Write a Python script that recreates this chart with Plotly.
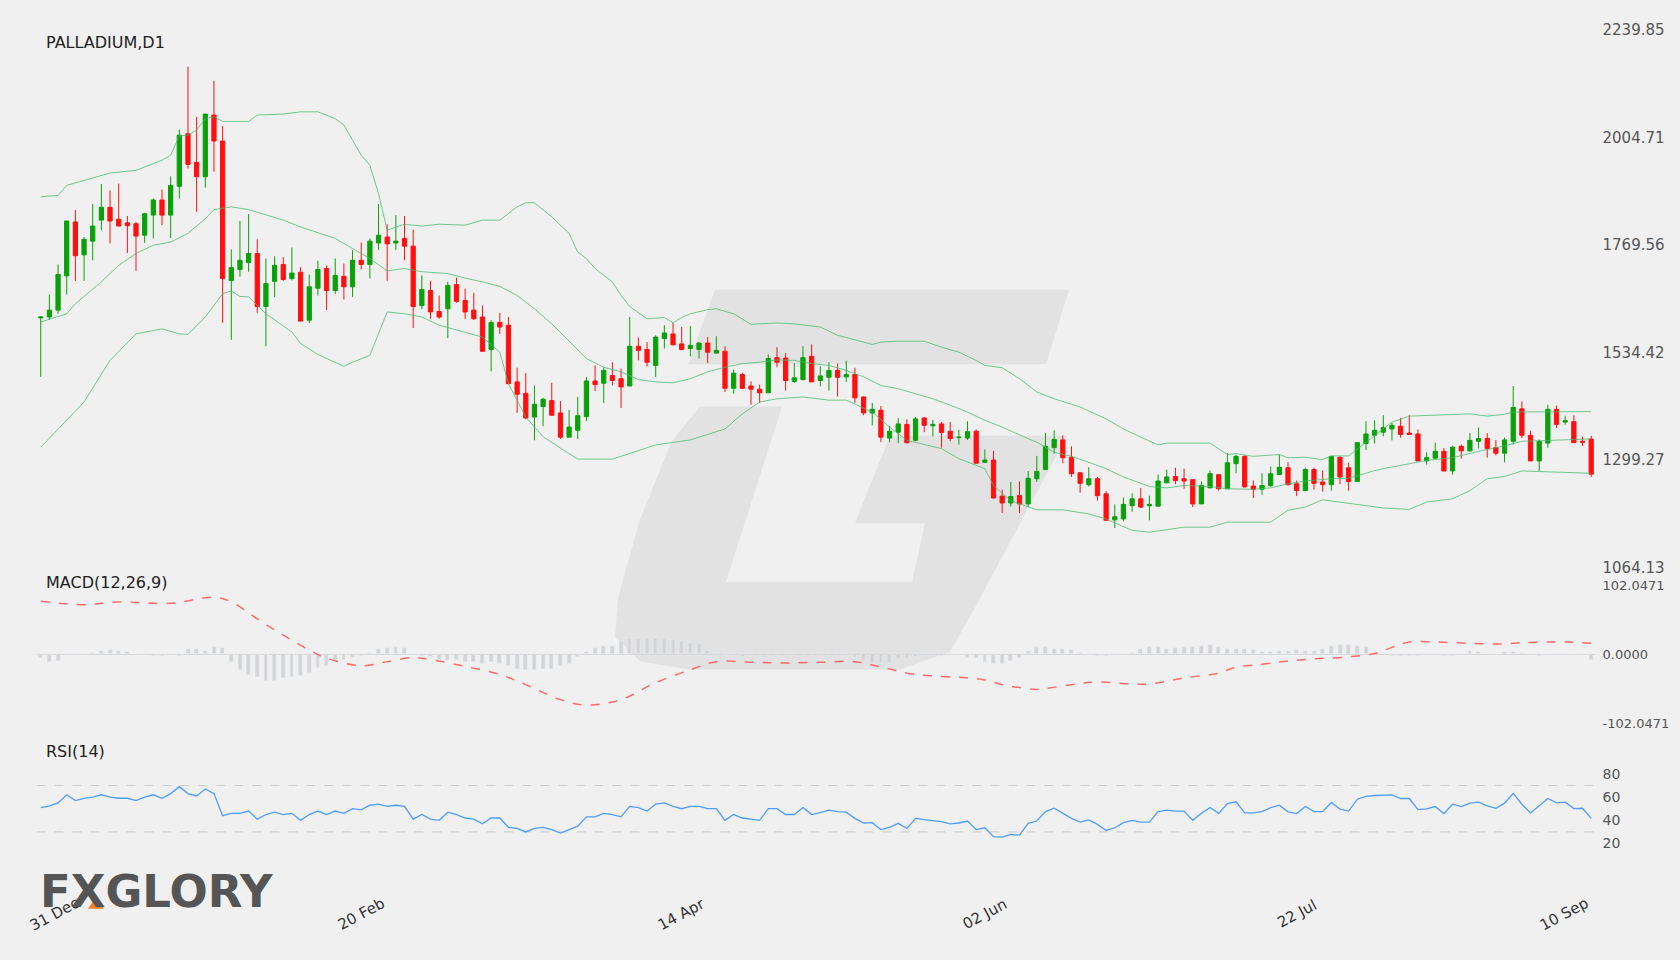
import plotly.graph_objects as go

W, H = 1680, 960

O = [1610,1612,1627,1702,1820,1748,1778,1824,1852,1826,1818,1816,1791,1835,1868,1835,1898,2013,1950,1919,
     2054,1997,1692,1716,1731,1751,1635,1690,1727,1696,1710,1605,1675,1718,1670,1701,1678,1736,1727,1774,
     1787,1774,1784,1767,1637,1670,1624,1630,1683,1648,1627,1612,1541,1600,1594,1470,1445,1393,1416,1429,
     1402,1349,1364,1394,1472,1467,1484,1477,1461,1548,1541,1506,1565,1575,1553,1543,1541,1555,1533,1537,
     1456,1486,1461,1454,1446,1523,1522,1471,1475,1526,1473,1480,1495,1481,1486,1437,1402,1408,1347,1360,
     1377,1342,1391,1374,1378,1362,1348,1347,1362,1294,1299,1220,1205,1221,1203,1258,1278,1326,1343,1305,
     1271,1245,1258,1225,1168,1170,1199,1214,1199,1198,1249,1263,1258,1256,1203,1238,1267,1236,1291,1307,
     1242,1235,1243,1267,1282,1247,1232,1278,1251,1245,1305,1282,1252,1335,1353,1360,1367,1373,1358,1356,
     1297,1303,1318,1275,1329,1319,1340,1346,1326,1314,1340,1411,1353,1297,1336,1410,1382,1383,1340,1345]
Hh = [1612,1661,1727,1822,1846,1787,1859,1903,1889,1904,1833,1820,1840,1871,1891,1920,2022,2160,2050,2056,
      2129,2030,1760,1822,1837,1782,1740,1745,1743,1764,1721,1705,1735,1725,1740,1729,1758,1775,1784,1859,
      1815,1835,1833,1803,1703,1691,1659,1689,1698,1674,1665,1637,1605,1621,1612,1501,1489,1462,1435,1468,
      1428,1409,1437,1481,1506,1502,1513,1499,1612,1567,1557,1572,1594,1599,1590,1592,1557,1568,1570,1548,
      1497,1490,1471,1464,1530,1546,1533,1511,1548,1552,1504,1513,1510,1516,1501,1438,1424,1417,1373,1391,
      1388,1393,1393,1387,1382,1382,1365,1384,1366,1322,1319,1234,1251,1252,1275,1308,1358,1364,1353,1329,
      1273,1283,1262,1231,1202,1217,1226,1238,1221,1267,1278,1282,1280,1256,1252,1276,1267,1314,1311,1309,
      1254,1270,1285,1311,1294,1254,1282,1282,1276,1307,1307,1293,1337,1384,1386,1397,1380,1391,1397,1366,
      1316,1337,1325,1330,1333,1358,1370,1358,1343,1348,1461,1427,1363,1344,1420,1418,1396,1397,1350,1352]
L = [1481,1606,1619,1661,1691,1691,1736,1802,1773,1811,1752,1713,1774,1784,1813,1785,1871,1937,1842,1895,
     1930,1599,1562,1700,1711,1621,1548,1656,1691,1692,1603,1599,1659,1627,1663,1650,1656,1716,1696,1759,
     1691,1759,1736,1588,1629,1608,1608,1566,1643,1608,1606,1537,1493,1575,1466,1402,1388,1342,1373,1397,
     1345,1349,1345,1384,1450,1424,1462,1413,1461,1517,1504,1481,1543,1550,1539,1526,1521,1511,1532,1448,
     1444,1454,1420,1424,1446,1502,1451,1468,1473,1470,1460,1451,1438,1470,1424,1397,1375,1338,1338,1336,
     1335,1340,1360,1351,1326,1340,1333,1343,1292,1292,1214,1183,1197,1183,1197,1251,1278,1313,1292,1262,
     1227,1241,1210,1167,1150,1165,1186,1194,1167,1198,1249,1246,1236,1196,1203,1238,1232,1236,1270,1240,
     1216,1223,1240,1267,1243,1220,1231,1234,1230,1232,1246,1232,1251,1321,1335,1351,1342,1348,1355,1297,
     1289,1302,1275,1267,1302,1318,1324,1304,1309,1294,1333,1347,1297,1275,1326,1369,1376,1337,1330,1262]
C = [1612,1627,1705,1822,1746,1782,1811,1852,1822,1811,1812,1789,1838,1868,1835,1900,2010,1946,1919,2056,
     1997,1696,1720,1736,1751,1635,1685,1725,1694,1708,1603,1678,1716,1670,1703,1678,1736,1727,1778,1791,
     1772,1778,1767,1635,1672,1623,1612,1681,1646,1623,1608,1537,1600,1590,1466,1443,1391,1421,1432,1397,
     1349,1371,1396,1472,1464,1495,1473,1459,1548,1539,1513,1568,1577,1551,1541,1550,1555,1535,1539,1456,
     1489,1456,1454,1446,1521,1513,1473,1479,1523,1470,1483,1495,1480,1486,1435,1402,1410,1349,1362,1378,
     1337,1389,1375,1377,1359,1346,1349,1361,1292,1299,1216,1205,1219,1203,1259,1274,1329,1344,1304,1269,
     1248,1258,1221,1167,1175,1202,1214,1196,1202,1253,1262,1254,1253,1203,1243,1269,1236,1293,1307,1240,
     1235,1243,1269,1283,1245,1232,1278,1248,1245,1307,1262,1252,1337,1356,1364,1370,1375,1355,1355,1297,
     1304,1318,1275,1327,1319,1342,1346,1324,1314,1343,1414,1353,1297,1340,1410,1377,1385,1337,1338,1268]

up_idx = [0,2,3,6,8,11,12,14,15,16,17,18,19,20,21,24,25,28,30,32,34,35,36,37,38,39,40,41,42,44,46,49,51,53,55,56,57,59,61,62,63,64,66,67,68,70,72,73,74,75,77,78,80,82,85,87,90,92,95,96,97,99,102,104,106,108,109,111,113,115,117,120,123,125,127,129,130,135,137,138,140,143,144,146,148,149,151,153,156,158,162,165,167,169,170,179]
up_val = [1875,1878,1900,1916,1927,1933,1940,1955,1966,2008,2010,2021,2046,2050,2040,2040,2054,2056,2061,2061,2046,2032,1999,1966,1944,1882,1802,1809,1815,1811,1815,1813,1824,1824,1853,1862,1862,1831,1795,1754,1740,1718,1689,1659,1635,1608,1611,1599,1611,1619,1628,1630,1619,1596,1599,1597,1590,1572,1557,1552,1557,1559,1559,1546,1535,1517,1506,1501,1477,1448,1433,1415,1389,1367,1349,1332,1336,1336,1311,1313,1307,1311,1304,1305,1300,1308,1308,1338,1382,1395,1398,1400,1395,1399,1404,1405]
mid_idx = [0,3,4,7,9,11,13,15,17,19,20,22,24,26,28,30,32,34,36,38,40,42,44,47,49,51,53,55,57,59,61,63,65,67,69,71,73,75,77,79,81,83,85,87,89,91,93,95,97,99,101,103,105,107,109,111,113,115,117,119,121,123,125,127,128,130,132,135,137,140,142,144,146,149,151,153,154,155,157,159,160,163,164,166,169,171,179]
mid_val = [1601,1619,1641,1689,1725,1751,1769,1776,1795,1827,1847,1853,1847,1835,1824,1809,1796,1784,1762,1740,1713,1718,1711,1707,1697,1689,1679,1659,1630,1597,1559,1521,1502,1492,1475,1470,1468,1477,1492,1502,1510,1513,1518,1517,1510,1506,1495,1481,1462,1455,1444,1433,1419,1404,1386,1371,1354,1338,1316,1307,1294,1280,1262,1249,1241,1238,1243,1241,1236,1235,1238,1247,1253,1258,1259,1270,1276,1280,1287,1294,1298,1304,1309,1318,1330,1340,1345]
low_idx = [0,2,5,8,11,14,16,17,19,21,22,23,24,26,29,30,32,35,36,38,40,42,44,46,49,51,53,54,56,58,60,62,66,71,75,77,79,81,83,85,88,91,93,96,98,100,104,106,109,110,112,115,118,121,123,126,128,132,135,137,142,144,146,148,150,152,155,158,160,163,165,167,169,171,179]
low_val = [1327,1367,1426,1517,1575,1586,1575,1574,1612,1663,1669,1657,1656,1619,1579,1554,1530,1504,1513,1528,1623,1619,1612,1594,1579,1568,1535,1466,1393,1350,1325,1301,1301,1332,1343,1355,1367,1400,1426,1433,1437,1430,1430,1404,1371,1342,1324,1302,1280,1243,1210,1190,1190,1181,1170,1145,1141,1152,1152,1163,1163,1189,1196,1212,1207,1203,1194,1191,1207,1214,1232,1258,1263,1275,1270]

sig_idx = [0,5,9,15,20,22,25,28,31,33,37,40,43,45,49,53,56,60,63,67,71,75,78,82,86,90,94,97,101,107,109,111,114,115,119,122,126,128,132,136,138,141,144,147,151,154,156,158,161,165,169,171,176,179]
sig_val = [78,73,77,75,84,77,52,28,6,-6,-17,-11,-5,-8,-18,-30,-45,-67,-75,-67,-42,-23,-11,-12,-13,-12,-11,-19,-30,-35,-38,-45,-51,-52,-45,-41,-44,-44,-35,-28,-19,-15,-10,-7,-4,1,10,18,18,16,15,17,18,16]
hist = [-6,-11,-10,-1,-1,0.5,2,4,6,5,3,1,0,-2,-2,0,-2,8,8,5,10,9,-12,-24,-30,-33,-39,-39,-35,-34,
        -32,-28,-20,-17,-12,-9,-6,-2,2,7,9,10,9,1,-2,-4,-8,-9,-8,-11,-12,-14,-11,-14,-18,-22,-24,-23,-22,-22,
        -18,-14,-4,3,9,12,12,20,22,22,24,24,23,21,19,17,15,5,2,-1,-2,-4,-2,0,1,0,2,1,1,1,
        2,1,0,-3,-5,-10,-13,-13,-13,-7,-6,-4,-2,-3,-2,-1,-1,-5,-6,-11,-15,-15,-10,-5,4,10,10,8,7,6,
        2,-1,-3,-3,-1,0,2,7,10,10,8,9,10,10,12,13,11,8,7,7,6,3,3,4,4,6,5,4,8,12,
        13,13,12,10,2,0,-2,-2,-2,-2,-1,-1,-2,-2,0,4,3,0,-1,3,3,2,0,-2,-1,-1,-1,-1,-1,-8]
rsi = [51,52.5,55,62,57,59,60,62,60,59,59,57,60,62,59,63,69,63,61,67,63,44,46,46,48,41,45,47,45,46,
       40,45,48,45,48,46,50,49,53,54,52,53,52,41,45,41,40,47,45,42,41,37,42,42,34,33,30,33,34,32,
       29,32,35,43,43,46,45,43,52,51,48,54,55,52,50,52,52,50,50,40,45,42,41,40,50,50,45,45,51,45,
       46.6,48.7,47.5,47,41.7,37.7,38,32,34,37.4,33,41.7,40.6,40,38.8,37,37.7,39.4,32,33.6,26,25.5,27.8,27.2,37.4,39.4,47.5,50.4,45.8,41.7,
       38.5,40.3,36.5,31.3,33.6,38,40,38.5,38.5,47.5,48.7,48,48,40,46,51,46,54.5,56,46.4,46.4,47.5,51,53,47.3,45.8,51.9,47.5,47.5,55.4,
       49.6,48,58.2,60.6,61.4,62,62,58.8,58.8,49.3,49.8,51.9,45.8,53.9,51.9,54.8,55.6,52.5,50.4,54.8,63.2,53.9,46.4,52.5,58.8,55,55.6,50.1,50.4,41.7]

tick_idx = [0, 37, 74, 109, 145, 179]
tick_text = ["31 Dec", "20 Feb", "14 Apr", "02 Jun", "22 Jul", "10 Sep"]
price_ticks = [1064.13, 1299.27, 1534.42, 1769.56, 2004.71, 2239.85]
macd_ticks = [-102.0471, 0.0, 102.0471]
rsi_ticks = [20, 40, 60, 80]

X = list(range(len(C)))
BG = "#f0f0f0"
def py(p): return 1 - p / H
def px(p): return p / W

fig = go.Figure()
band = dict(color="rgba(70,185,110,0.75)", width=1)
fig.add_trace(go.Scatter(x=up_idx, y=up_val, mode="lines", line=band, hoverinfo="skip"))
fig.add_trace(go.Scatter(x=mid_idx, y=mid_val, mode="lines", line=band, hoverinfo="skip"))
fig.add_trace(go.Scatter(x=low_idx, y=low_val, mode="lines", line=band, hoverinfo="skip"))
fig.add_trace(go.Candlestick(x=X, open=O, high=Hh, low=L, close=C, whiskerwidth=0,
    increasing=dict(line=dict(color="#0aa00a", width=1), fillcolor="#0aa00a"),
    decreasing=dict(line=dict(color="#ff1010", width=1), fillcolor="#ff1010")))
fig.add_trace(go.Bar(x=X, y=hist, marker_color="#d4d4d4", width=0.45, xaxis="x2", yaxis="y2"))
fig.add_trace(go.Scatter(x=sig_idx, y=sig_val, mode="lines", line=dict(color="#ff6b6b", width=1.5, dash="dash", shape="spline"),
    xaxis="x2", yaxis="y2"))
fig.add_trace(go.Scatter(x=X, y=rsi, mode="lines", line=dict(color="#4f9dff", width=1.3), xaxis="x3", yaxis="y3"))

xr = [-0.5, len(C) - 0.5]
xdom = [px(36.4), px(1595.5)]
common_x = dict(range=xr, domain=xdom, showgrid=False, zeroline=False, showticklabels=False, showline=False)
tf = dict(family="DejaVu Sans", size=15, color="#555")
fig.update_layout(
    width=W, height=H, paper_bgcolor=BG, plot_bgcolor="rgba(0,0,0,0)", showlegend=False,
    margin=dict(l=0, r=0, t=0, b=0), bargap=0,
    xaxis=dict(**common_x, rangeslider=dict(visible=False)),
    xaxis2=dict(**common_x, anchor="y2"),
    xaxis3=dict(**common_x, anchor="y3"),
    yaxis=dict(domain=[py(569), py(21.5)], range=[price_ticks[0], price_ticks[-1]], side="right",
               tickvals=price_ticks, ticktext=[f"{v:.2f}" for v in price_ticks], showgrid=False,
               zeroline=False, tickfont=tf, ticks="", ticklabelstandoff=6),
    yaxis2=dict(domain=[py(728), py(587)], range=[macd_ticks[0], macd_ticks[-1]], side="right", anchor="x2",
                tickvals=macd_ticks, ticktext=[f"{v:.4f}" for v in macd_ticks], showgrid=False,
                zeroline=True, zerolinecolor="#d8d8d8", zerolinewidth=1, tickfont=dict(family="DejaVu Sans", size=13, color="#555"), ticks="", ticklabelstandoff=6),
    yaxis3=dict(domain=[py(850.5), py(779.5)], range=[rsi_ticks[0], rsi_ticks[-1]], side="right", anchor="x3",
                tickvals=rsi_ticks, showgrid=False, zeroline=False,
                tickfont=dict(family="DejaVu Sans", size=14, color="#555"), ticks="", ticklabelstandoff=6),
)
for lvl in (30, 70):
    fig.add_shape(type="line", xref="x3", yref="y3", x0=xr[0], x1=xr[1], y0=lvl, y1=lvl,
                  line=dict(color="#d0d0d0", width=1.2, dash="dash"), layer="below")

# watermark
def path(pts):
    return "M " + " L ".join(f"{px(x)},{py(y)}" for x, y in pts) + " Z"
wm = "rgba(205,205,205,0.4)"
fig.add_shape(type="path", xref="paper", yref="paper", layer="below", line_width=0, fillcolor=wm,
              path=path([(715, 286), (1069, 286), (1046, 362), (688, 362)]))
fig.add_shape(type="path", xref="paper", yref="paper", layer="below", line_width=0, fillcolor=wm,
              path=path([(782, 405), (700, 405), (672, 440), (640, 520), (618, 600), (615, 640), (640, 665),
                         (690, 673), (900, 673), (950, 655), (975, 610), (1067, 435), (890, 435),
                         (855, 524), (925, 524), (912, 584), (726, 584)]))

ann = [dict(text="PALLADIUM,D1", x=px(44), y=py(34.5)), dict(text="MACD(12,26,9)", x=px(44), y=py(584)),
       dict(text="RSI(14)", x=px(44), y=py(756.5))]
for a in ann:
    fig.add_annotation(xref="paper", yref="paper", xanchor="left", yanchor="middle", showarrow=False,
                       font=dict(family="DejaVu Sans", size=16, color="#222"), **a)
shifts = [14, 0, 0, 0, 0, -27]
for t, lab, s in zip(tick_idx, tick_text, shifts):
    fig.add_annotation(x=t, xref="x3", y=py(922), yref="paper", text=lab, textangle=-28, showarrow=False,
                       xanchor="center", yanchor="middle", xshift=s,
                       font=dict(family="DejaVu Sans", size=15, color="#333"))
fig.add_annotation(xref="paper", yref="paper", x=px(38), y=py(899.5), xanchor="left", yanchor="middle",
                   text="<b>FXGLORY</b>", showarrow=False,
                   font=dict(family="DejaVu Sans", size=45, color="#555"))
fig.add_shape(type="path", xref="paper", yref="paper", line_width=0, fillcolor="#f07f2a",
              path=path([(96, 905), (104, 917), (88, 917)]))
fig.write_html("out.html", config={"displayModeBar": False})

with open("out.html", encoding="utf-8") as f:
    html = f.read()
html = html.replace("<head>", "<head><style>html,body{margin:0;padding:0;background:#f0f0f0;overflow:hidden}</style>", 1)
with open("out.html", "w", encoding="utf-8") as f:
    f.write(html)
